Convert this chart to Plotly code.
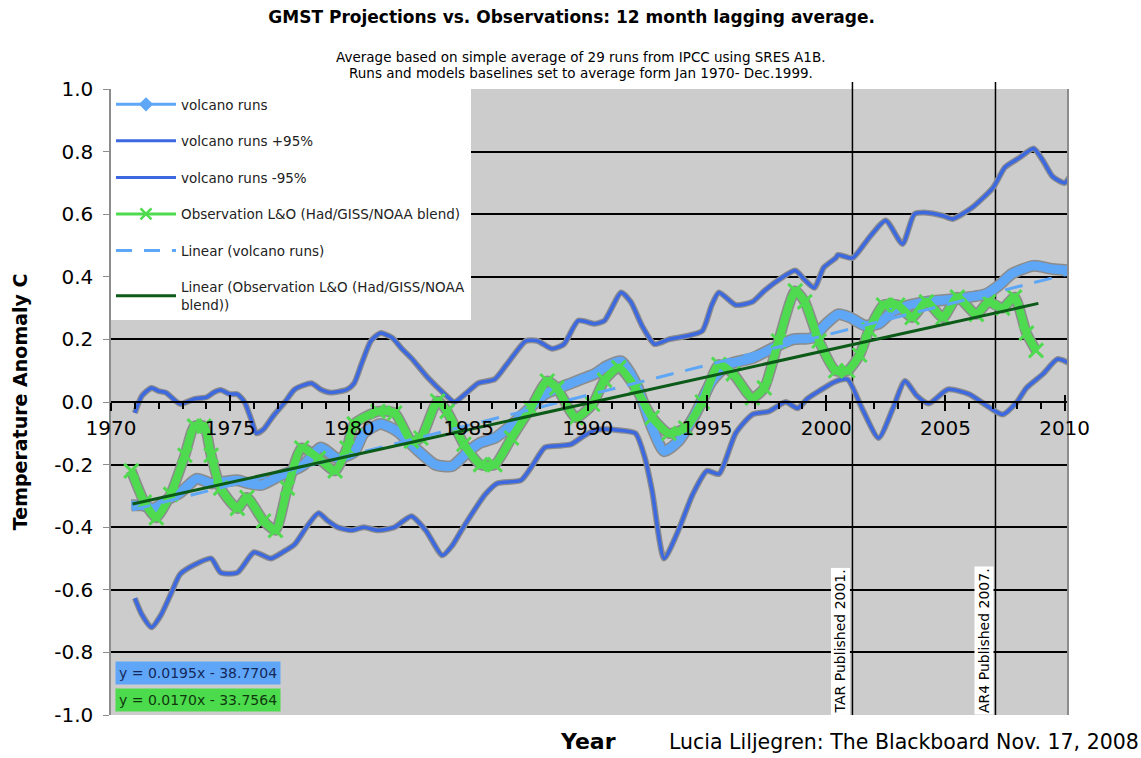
import plotly.graph_objects as go

# ---- data (decimal year, anomaly C) ----
upper_years = [1971.0, 1971.3, 1971.7, 1972.0, 1972.3, 1972.9, 1973.5, 1974.0, 1974.3, 1974.6,
               1975.0, 1975.3, 1975.6, 1975.9, 1976.1, 1976.4, 1976.8, 1977.3, 1977.7, 1978.4,
               1978.8, 1979.2, 1979.9, 1980.2, 1980.5, 1980.9, 1981.3, 1981.8, 1982.2, 1982.6,
               1983.3, 1984.0, 1984.4, 1985.0, 1985.4, 1986.1, 1986.6, 1987.4, 1987.9, 1988.5,
               1989.0, 1989.6, 1990.3, 1990.7, 1991.4, 1991.8, 1992.3, 1992.8, 1993.4, 1994.1,
               1994.8, 1995.2, 1995.5, 1996.2, 1996.9, 1997.4, 1998.0, 1998.7, 1999.1, 1999.5,
               1999.9, 2000.4, 2000.5, 2001.1, 2001.8, 2002.5, 2003.2, 2003.7, 2004.2, 2004.9,
               2005.3, 2006.1, 2007.0, 2007.5, 2008.1, 2008.7, 2009.1, 2009.5, 2010.0, 2010.3]
upper_vals = [-0.035, 0.02, 0.045, 0.035, 0.03, -0.006, 0.01, 0.015, 0.03, 0.038,
              0.025, 0.025, 0.0, -0.06, -0.10, -0.087, -0.045, 0.0, 0.04, 0.06,
              0.04, 0.03, 0.04, 0.06, 0.12, 0.195, 0.22, 0.205, 0.17, 0.14,
              0.077, 0.025, 0.0, 0.035, 0.06, 0.073, 0.12, 0.195, 0.195, 0.17,
              0.185, 0.26, 0.25, 0.26, 0.35, 0.32, 0.24, 0.185, 0.20, 0.21,
              0.227, 0.31, 0.35, 0.31, 0.32, 0.355, 0.39, 0.42, 0.39, 0.365,
              0.43, 0.46, 0.47, 0.46, 0.525, 0.58, 0.505, 0.60, 0.605, 0.595,
              0.585, 0.62, 0.685, 0.75, 0.78, 0.81, 0.77, 0.72, 0.70, 0.73]

lower_years = [1971.0, 1971.3, 1971.7, 1972.1, 1972.5, 1972.9, 1973.5, 1974.2, 1974.6, 1975.3,
               1976.0, 1976.7, 1977.2, 1977.7, 1978.2, 1978.7, 1979.1, 1979.5, 1980.1, 1980.6,
               1981.2, 1981.9, 1982.6, 1983.2, 1983.9, 1984.3, 1984.7, 1985.2, 1985.7, 1986.2,
               1987.2, 1987.7, 1988.2, 1988.8, 1989.3, 1989.8, 1990.3, 1990.7, 1991.3, 1992.0,
               1992.4, 1992.7, 1993.2, 1993.8, 1994.4, 1995.0, 1995.5, 1996.2, 1996.9, 1997.6,
               1998.3, 1998.8, 1999.2, 1999.7, 2000.4, 2000.9, 2001.5, 2002.2, 2002.8, 2003.3,
               2003.8, 2004.3, 2005.1, 2006.0, 2006.7, 2007.4, 2008.0, 2008.4, 2009.1, 2009.7,
               2010.3]
lower_vals = [-0.627, -0.68, -0.72, -0.68, -0.615, -0.55, -0.52, -0.50, -0.545, -0.545,
              -0.48, -0.50, -0.48, -0.455, -0.40, -0.355, -0.38, -0.40, -0.41, -0.40,
              -0.41, -0.40, -0.365, -0.41, -0.49, -0.46, -0.41, -0.35, -0.295, -0.26,
              -0.25, -0.20, -0.145, -0.14, -0.135, -0.11, -0.09, -0.087, -0.09, -0.10,
              -0.18, -0.285, -0.50, -0.41, -0.295, -0.22, -0.23, -0.10, -0.04, -0.03,
              0.0, -0.02, 0.01, 0.035, 0.066, 0.072, -0.02, -0.115, -0.02, 0.067,
              0.02, -0.005, 0.04, 0.025, -0.01, -0.04, 0.0, 0.045, 0.09, 0.137,
              0.12]

runs_years = [1970.85, 1971.3, 1971.8, 1972.4, 1972.9, 1973.6, 1974.2, 1974.7, 1975.3, 1975.8,
              1976.3, 1977.1, 1977.6, 1978.1, 1978.8, 1979.5, 1980.2, 1980.6, 1981.3, 1982.0,
              1982.9, 1983.6, 1984.3, 1985.0, 1985.5, 1986.1, 1986.7, 1987.2, 1987.7, 1988.2,
              1988.8, 1989.3, 1989.8, 1990.3, 1990.8, 1991.4, 1991.8, 1992.1, 1992.7, 1993.2,
              1993.8, 1994.5, 1995.2, 1995.9, 1996.9, 1997.7, 1998.6, 1999.4, 2000.0, 2000.5,
              2001.0, 2001.6, 2002.2, 2002.8, 2003.5, 2004.2, 2005.5, 2006.7, 2007.2, 2007.8,
              2008.7, 2009.5, 2010.3]
runs_vals = [-0.33, -0.33, -0.34, -0.31, -0.29, -0.245, -0.26, -0.255, -0.25, -0.26,
             -0.265, -0.235, -0.22, -0.20, -0.145, -0.18, -0.16, -0.10, -0.07, -0.093,
             -0.157, -0.20, -0.205, -0.157, -0.13, -0.115, -0.08, -0.045, -0.01, 0.025,
             0.045, 0.06, 0.075, 0.09, 0.115, 0.13, 0.09, 0.045, -0.083, -0.157,
             -0.125, -0.04, 0.067, 0.12, 0.14, 0.17, 0.20, 0.205, 0.25, 0.28,
             0.27, 0.245, 0.25, 0.29, 0.31, 0.32, 0.33, 0.345, 0.37, 0.41,
             0.435, 0.425, 0.42]

obs_years = [1970.85, 1971.4, 1971.9, 1972.5, 1973.1, 1973.5, 1973.9, 1974.2, 1974.6, 1975.3,
             1975.7, 1976.4, 1976.9, 1977.4, 1978.0, 1978.7, 1979.4, 1979.9, 1980.2, 1981.2,
             1981.9, 1982.6, 1983.0, 1983.7, 1984.1, 1984.8, 1985.5, 1986.1, 1986.8, 1987.6,
             1988.3, 1988.7, 1989.5, 1990.2, 1990.7, 1991.3, 1992.0, 1992.7, 1993.4, 1994.1,
             1994.8, 1995.5, 1996.1, 1996.9, 1997.4, 1998.0, 1998.7, 1999.1, 1999.7, 2000.4,
             2000.9, 2001.4, 2001.8, 2002.4, 2003.0, 2003.6, 2004.2, 2004.9, 2005.5, 2006.3,
             2006.8, 2007.4, 2007.9, 2008.4, 2008.8]
obs_vals = [-0.22, -0.32, -0.37, -0.295, -0.17, -0.077, -0.077, -0.17, -0.275, -0.34,
            -0.305, -0.38, -0.41, -0.275, -0.147, -0.18, -0.22, -0.147, -0.07, -0.03,
            -0.035, -0.125, -0.115, 0.003, -0.03, -0.135, -0.20, -0.20, -0.115, -0.02,
            0.067, 0.045, -0.05, -0.007, 0.07, 0.11, 0.045, -0.05, -0.10, -0.083,
            0.0, 0.12, 0.09, 0.013, 0.045, 0.195, 0.355, 0.32, 0.195, 0.10,
            0.10, 0.15, 0.23, 0.31, 0.31, 0.27, 0.32, 0.27, 0.335, 0.28,
            0.32, 0.30, 0.335, 0.22, 0.165]

# linear trend end points
trend_runs_years = [1970.9, 2010.2]
trend_runs_vals = [-0.345, 0.41]
trend_obs_years = [1970.9, 2008.9]
trend_obs_vals = [-0.326, 0.315]

report_years = [2001.1, 2007.1]
report_labels = ["TAR Published 2001.", "AR4 Published 2007."]

y_ticks = [1.0, 0.8, 0.6, 0.4, 0.2, 0.0, -0.2, -0.4, -0.6, -0.8, -1.0]
y_tick_text = ["1.0", "0.8", "0.6", "0.4", "0.2", "0.0", "-0.2", "-0.4", "-0.6", "-0.8", "-1.0"]

eq_runs = "y = 0.0195x - 38.7704"
eq_obs = "y = 0.0170x - 33.7564"

# ---- colours ----
LIGHT_BLUE = "#5EA6F6"
ROYAL_BLUE = "#3D69E0"
GREEN = "#4FDB4F"
DARK_GREEN = "#0B5A18"
SHADOW = "#8C8C8C"
FONT = "DejaVu Sans"

fig = go.Figure()

# shadows under the main lines
for xs, ys, w in [(upper_years, upper_vals, 6), (lower_years, lower_vals, 6),
                  (runs_years, runs_vals, 12), (obs_years, obs_vals, 11)]:
    fig.add_trace(go.Scatter(x=xs, y=ys, mode="lines", showlegend=False, hoverinfo="skip",
                             line=dict(color=SHADOW, width=w, shape="spline", smoothing=0.6)))

# +/-95% runs
fig.add_trace(go.Scatter(x=upper_years, y=upper_vals, mode="lines", showlegend=False,
                         line=dict(color=ROYAL_BLUE, width=3.5, shape="spline", smoothing=0.6)))
fig.add_trace(go.Scatter(x=lower_years, y=lower_vals, mode="lines", showlegend=False,
                         line=dict(color=ROYAL_BLUE, width=3.5, shape="spline", smoothing=0.6)))

# volcano runs mean (thick band)
fig.add_trace(go.Scatter(x=runs_years, y=runs_vals, mode="lines", showlegend=False,
                         line=dict(color=LIGHT_BLUE, width=9, shape="spline", smoothing=0.6)))

# observations
fig.add_trace(go.Scatter(x=obs_years, y=obs_vals, mode="lines+markers", showlegend=False,
                         line=dict(color=GREEN, width=8, shape="spline", smoothing=0.6),
                         marker=dict(symbol="x-thin", size=14, color=GREEN,
                                     line=dict(color=GREEN, width=3))))

# trend lines
fig.add_trace(go.Scatter(x=trend_runs_years, y=trend_runs_vals, mode="lines", showlegend=False,
                         line=dict(color=LIGHT_BLUE, width=3, dash="18px,12px")))
fig.add_trace(go.Scatter(x=trend_obs_years, y=trend_obs_vals, mode="lines", showlegend=False,
                         line=dict(color=DARK_GREEN, width=3)))

# legend-only entries (legend samples are thin in the original)
legend_items = [
    ("volcano runs", dict(color=LIGHT_BLUE, width=3), dict(symbol="diamond", size=11, color=LIGHT_BLUE), "lines+markers"),
    ("volcano runs +95%", dict(color=ROYAL_BLUE, width=3), None, "lines"),
    ("volcano runs -95%", dict(color=ROYAL_BLUE, width=3), None, "lines"),
    ("Observation L&O (Had/GISS/NOAA blend)", dict(color=GREEN, width=3),
     dict(symbol="x-thin", size=11, color=GREEN, line=dict(color=GREEN, width=2.5)), "lines+markers"),
    ("Linear (volcano runs)", dict(color=LIGHT_BLUE, width=3, dash="16px,12px"), None, "lines"),
    ("Linear (Observation L&O (Had/GISS/NOAA<br>blend))", dict(color=DARK_GREEN, width=3), None, "lines"),
]
for i, (name, line, marker, mode) in enumerate(legend_items):
    kw = dict(marker=marker) if marker else {}
    fig.add_trace(go.Scatter(x=[None], y=[None], mode=mode, name=name, line=line,
                             legendgroup=f"g{i}", xaxis="x2" if i == 0 else "x", **kw))

# report publication lines
for yr, label in zip(report_years, report_labels):
    fig.add_shape(type="line", x0=yr, x1=yr, xref="x", y0=0, y1=1.011, yref="y domain",
                  line=dict(color="black", width=1.5), layer="below")
    fig.add_annotation(x=yr, xref="x", y=-1, yref="y", xanchor="right", yanchor="bottom",
                       text=label, textangle=-90, showarrow=False, bgcolor="white",
                       font=dict(family=FONT, size=14, color="black"), xshift=-2)

# equations
fig.add_annotation(x=0.004, y=0.067, xref="paper", yref="paper", xanchor="left", yanchor="middle",
                   text=eq_runs, showarrow=False, bgcolor="#5FA6F8", borderpad=3,
                   font=dict(family=FONT, size=14, color="#15285A"))
fig.add_annotation(x=0.004, y=0.024, xref="paper", yref="paper", xanchor="left", yanchor="middle",
                   text=eq_obs, showarrow=False, bgcolor="#4CDB4C", borderpad=3,
                   font=dict(family=FONT, size=14, color="#10380F"))

# titles and texts
fig.add_annotation(x=0.492, y=1.051, xref="paper", yref="paper", xanchor="center", yanchor="middle",
                   showarrow=False,
                   text="Average based on simple average of 29 runs from IPCC using SRES A1B.",
                   font=dict(family=FONT, size=13.5, color="black"))
fig.add_annotation(x=0.492, y=1.026, xref="paper", yref="paper", xanchor="center", yanchor="middle",
                   showarrow=False,
                   text="Runs and models baselines set to average form Jan 1970- Dec.1999.",
                   font=dict(family=FONT, size=13.5, color="black"))
fig.add_annotation(x=-0.095, y=0.5, xref="paper", yref="paper", xanchor="center", yanchor="middle",
                   showarrow=False, textangle=-90,
                   text="<b>Temperature Anomaly C</b>", font=dict(family=FONT, size=19, color="black"))
fig.add_annotation(x=0.499, y=-0.043, xref="paper", yref="paper", xanchor="center", yanchor="middle",
                   showarrow=False, text="<b>Year</b>", font=dict(family=FONT, size=22, color="black"))
fig.add_annotation(x=0.5816, y=-0.043, xref="paper", yref="paper", xanchor="left", yanchor="middle",
                   showarrow=False, text="Lucia Liljegren: The Blackboard Nov. 17, 2008",
                   font=dict(family=FONT, size=20.5, color="black"))

fig.update_layout(
    width=1141, height=758,
    paper_bgcolor="white", plot_bgcolor="#CCCCCC",
    margin=dict(l=111, r=74, t=89, b=43, autoexpand=False),
    font=dict(family=FONT, color="black"),
    title=dict(text="<b>GMST Projections vs. Observations: 12 month lagging average.</b>",
               x=0.501, y=0.978, xanchor="center", yanchor="middle",
               font=dict(family=FONT, size=17, color="black")),
    showlegend=True,
    legend=dict(x=0.0, y=1.0, xanchor="left", yanchor="top", bgcolor="white", borderwidth=0,
                font=dict(family=FONT, size=13.5, color="#222"), itemwidth=60,
                tracegroupgap=16, traceorder="grouped"),
    xaxis=dict(range=[1970, 2010.1], anchor="free", position=0.5, dtick=5, tick0=1970,
               showgrid=False, zeroline=False, showline=True, linecolor="black", linewidth=2,
               ticks="outside", ticklen=8, tickwidth=2, tickcolor="black",
               minor=dict(dtick=1, ticks="outside", ticklen=6, tickwidth=2, tickcolor="black"),
               tickfont=dict(family=FONT, size=20, color="black")),
    xaxis2=dict(range=[1970, 2010.1], overlaying="x", anchor="free", position=0.5, dtick=5,
                tick0=1970, showgrid=False, zeroline=False, showline=False, ticks="inside",
                ticklen=7, tickwidth=2, tickcolor="black", showticklabels=False),
    yaxis=dict(range=[-1.0, 1.0], tickvals=y_ticks, ticktext=y_tick_text, showgrid=True,
               gridcolor="black", gridwidth=1.5, zeroline=False, showline=True, mirror=True,
               linecolor="#8C8C8C", linewidth=1.5, ticks="outside", ticklen=6,
               tickcolor="#8C8C8C", ticklabelstandoff=6,
               tickfont=dict(family=FONT, size=20, color="black")),
)

fig.write_html("out.html", config={"displayModeBar": False},
               post_script="document.body.style.margin='0px';")
